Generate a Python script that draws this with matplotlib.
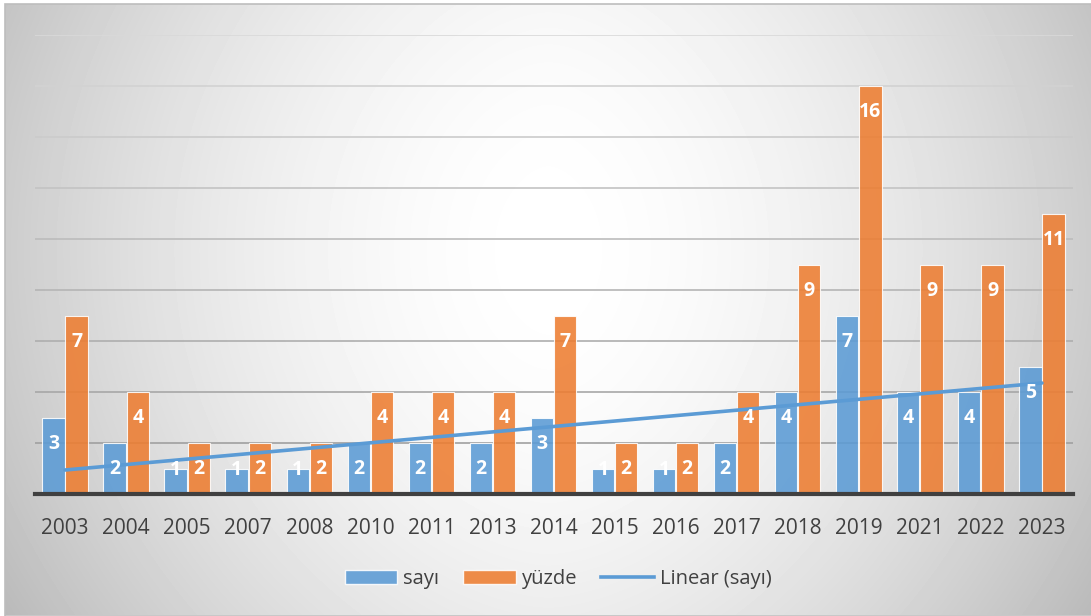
import matplotlib
matplotlib.use('Agg')
import matplotlib.pyplot as plt
from matplotlib.patches import Rectangle
from matplotlib.lines import Line2D
import numpy as np

plt.rcParams['font.family'] = ['Open Sans', 'DejaVu Sans']

# data
years = ['2003', '2004', '2005', '2007', '2008', '2010', '2011', '2013', '2014',
         '2015', '2016', '2017', '2018', '2019', '2021', '2022', '2023']
sayi = [3, 2, 1, 1, 1, 2, 2, 2, 3, 1, 1, 2, 4, 7, 4, 4, 5]
yuzde = [7, 4, 2, 2, 2, 4, 4, 4, 7, 2, 2, 4, 9, 16, 9, 9, 11]

blue = '#5B9BD5'
orange = '#ED7D31'
text_col = '#404040'

W, H = 1091, 616
fig = plt.figure(figsize=(W / 100, H / 100), dpi=100)
fig.patch.set_facecolor('white')

# radial grey -> white background of the chart area
bg = fig.add_axes([5 / W, 1 / H, 1 - 5 / W, 611 / H])
bg.axis('off')
gx, gy = np.meshgrid(np.arange(5, W), np.arange(4, 615))
dx = np.abs(gx - 548) / 545
dy = np.abs(gy - 250) / 330
shade = 1 - 0.2 * dx ** 1.7 - 0.06 * dy ** 2
bg.imshow(shade, cmap='gray', vmin=0, vmax=1, aspect='auto',
          interpolation='bilinear', extent=(0, 1, 0, 1))
bg.set_xlim(0, 1)
bg.set_ylim(0, 1)
fig.patches.append(Rectangle((5 / W, 0), 1, 612 / H, transform=fig.transFigure,
                             fill=False, edgecolor='#bdbdbd', lw=1.2))

ax = fig.add_axes([34.5 / W, 122 / H, 1038 / W, 459 / H])
ax.set_facecolor('none')
x = np.arange(len(years))
width = 0.365
off = 0.19

# gridlines, darker towards the bottom like the original
for g in range(2, 19, 2):
    c = 0.60 + 0.25 * (g / 18)
    ax.axhline(g, color=(c, c, c), lw=1.2, zorder=1)

edge = (1, 1, 1, 0.3)
ax.bar(x - off, sayi, width, color=blue, alpha=0.88, edgecolor=edge, lw=0.8,
       zorder=2, label='sayı')
ax.bar(x + off, yuzde, width, color=orange, alpha=0.88, edgecolor=edge, lw=0.8,
       zorder=2, label='yüzde')

fit = np.polyfit(x + 1, sayi, 1)
ax.plot(x, np.polyval(fit, x + 1), color=blue, lw=2.6, zorder=3,
        solid_capstyle='round', label='Linear (sayı)')

for xi, v in zip(x, sayi):
    ax.text(xi - off, max(v - 1.03, 0.94), str(v), ha='center', va='center',
            color='white', fontsize=14, fontweight='bold', zorder=4)
for xi, v in zip(x, yuzde):
    ax.text(xi + off, max(v - 1.03, 0.94), str(v), ha='center', va='center',
            color='white', fontsize=14, fontweight='bold', zorder=4)

ax.set_xlim(-0.5, len(years) - 0.5)
ax.set_ylim(0, 18)
ax.set_yticks([])
ax.set_xticks(x)
ax.set_xticklabels(years, fontsize=15, color=text_col)
ax.tick_params(axis='x', length=0, pad=17.5)
for s in ['top', 'right', 'left']:
    ax.spines[s].set_visible(False)
ax.spines['bottom'].set_color(text_col)
ax.spines['bottom'].set_linewidth(3)
ax.spines['bottom'].set_zorder(5)

handles = [Rectangle((0, 0), 1, 1, facecolor=blue, alpha=0.88, edgecolor=edge),
           Rectangle((0, 0), 1, 1, facecolor=orange, alpha=0.88, edgecolor=edge),
           Line2D([0], [0], color=blue, lw=2.6)]
leg = fig.legend(handles, ['sayı', 'yüzde', 'Linear (sayı)'], loc='center',
                 bbox_to_anchor=(558 / W, 1 - 579 / H), ncol=3, frameon=False,
                 fontsize=14.5, handlelength=2.6, handleheight=0.65,
                 handletextpad=0.3, columnspacing=1.2)
for t in leg.get_texts():
    t.set_color(text_col)

fig.savefig('out.png', dpi=100)
